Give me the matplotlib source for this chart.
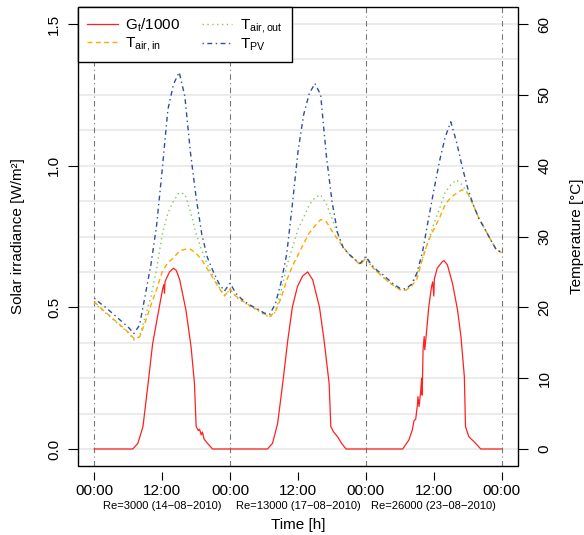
import matplotlib
matplotlib.use("Agg")
import matplotlib.pyplot as plt
import matplotlib.transforms as mtransforms
from matplotlib.patches import Rectangle
import numpy as np

plt.rcParams['font.family'] = ['Liberation Sans', 'DejaVu Sans']
plt.rcParams['mathtext.fontset'] = 'custom'
plt.rcParams['mathtext.rm'] = 'Liberation Sans'
plt.rcParams['mathtext.it'] = 'Liberation Sans:italic'

# Stundenwerte ueber drei Messtage (0..72 h)
hours = np.arange(0, 73)

t_pv = [
    21.3, 20.6, 20.0, 19.3, 18.6, 17.9, 17.2, 16.3, 17.5, 21.7, 26.0, 31.5,
    39.4, 47.9, 51.5, 53.2, 49.8, 41.8, 35.5, 30.3, 27.0, 25.1, 23.4, 22.3,
    23.4, 22.0, 21.2, 20.6, 20.1, 19.7, 19.2, 19.0, 20.5, 23.5, 27.5, 34.5,
    42.0, 47.2, 50.2, 51.6, 50.0, 41.5, 35.0, 30.5, 28.4, 27.5, 26.8, 26.2,
    27.2, 26.0, 25.2, 24.6, 23.9, 23.2, 22.7, 22.6, 23.2, 24.8, 27.8, 32.2,
    36.5, 40.6, 44.0, 46.2, 43.4, 39.9, 36.8, 34.4, 32.5, 31.1, 29.6, 28.2, 27.7]

t_air_in = [
    20.8, 20.0, 19.3, 18.6, 17.9, 17.2, 16.5, 15.6, 15.8, 17.9, 20.3, 22.5,
    25.0, 26.3, 27.0, 27.9, 28.2, 28.2, 27.6, 26.7, 25.4, 24.1, 22.8, 21.6,
    22.6, 21.6, 21.0, 20.5, 20.0, 19.6, 19.1, 18.7, 19.4, 21.3, 23.8, 25.8,
    27.4, 29.0, 30.5, 31.5, 32.4, 32.1, 30.8, 29.6, 28.5, 27.5, 26.8, 26.0,
    27.0, 25.8, 25.0, 24.3, 23.6, 23.0, 22.5, 22.4, 22.9, 24.0, 26.8, 29.3,
    31.0, 32.6, 34.5, 35.5, 36.1, 36.6, 36.1, 34.4, 32.5, 31.1, 29.6, 28.2, 27.7]

t_air_out = [
    20.6, 19.9, 19.2, 18.5, 17.8, 17.1, 16.4, 15.4, 15.9, 18.7, 21.5, 25.3,
    30.3, 33.3, 35.0, 36.2, 36.0, 33.5, 30.4, 28.0, 26.0, 24.4, 22.9, 21.7,
    22.5, 21.5, 20.9, 20.4, 19.9, 19.5, 19.0, 18.6, 19.3, 22.3, 25.8, 28.4,
    31.0, 32.7, 34.5, 35.5, 35.9, 34.6, 32.6, 30.3, 28.5, 27.5, 26.8, 26.0,
    27.0, 25.8, 25.0, 24.3, 23.6, 23.0, 22.5, 22.4, 23.0, 24.6, 27.0, 29.3,
    31.8, 33.9, 36.2, 37.3, 38.0, 37.3, 36.1, 34.4, 32.5, 31.1, 29.6, 28.2, 27.7]

# Globalstrahlung / 1000
g_hours = [
    0, 6.8, 7.7, 8.6, 9.5, 10.3, 11.2, 12.1, 12.3, 12.4, 12.5, 12.7, 13.3, 14.0,
    14.5, 15.1, 16.2, 17.1, 17.7, 18.0, 18.4, 18.6, 18.9, 19.1, 19.4, 20.0, 20.9,
    30.6, 31.5, 32.4, 33.3, 34.2, 35.0, 35.9, 36.8, 37.7, 38.6, 39.8, 40.6, 41.5,
    41.8, 42.3, 43.0, 43.7, 44.5,
    54.5, 55.6, 56.2, 56.5, 56.8, 57.1, 57.2, 57.4, 57.7, 57.85, 57.95, 58.1,
    58.3, 58.4, 58.7, 59.1, 59.6, 59.8, 60.0, 60.1, 60.6, 61.5, 61.8, 62.4, 63.3,
    64.2, 64.8, 65.4, 65.6, 66.2, 67.1, 68.3, 72]
g_t = [
    0, 0, 0.02, 0.079, 0.23, 0.37, 0.47, 0.567, 0.58, 0.55, 0.59, 0.60, 0.625, 0.638,
    0.63, 0.597, 0.49, 0.361, 0.232, 0.079, 0.065, 0.07, 0.05, 0.06, 0.035, 0.02, 0,
    0, 0.02, 0.09, 0.232, 0.385, 0.50, 0.573, 0.61, 0.625, 0.597, 0.50, 0.385, 0.232,
    0.079, 0.06, 0.043, 0.02, 0,
    0, 0.032, 0.067, 0.10, 0.105, 0.155, 0.185, 0.15, 0.208, 0.25, 0.19, 0.35,
    0.397, 0.35, 0.41, 0.50, 0.573, 0.59, 0.54, 0.60, 0.638, 0.661, 0.665, 0.65, 0.585,
    0.49, 0.396, 0.255, 0.079, 0.043, 0.026, 0, 0]

x_ticks = [0, 12, 24, 36, 48, 60, 72]
x_labels = ["00:00", "12:00", "00:00", "12:00", "00:00", "12:00", "00:00"]
day_mid = [12, 36, 60]
day_labels = ["Re=3000 (14\u221208\u22122010)", "Re=13000 (17\u221208\u22122010)",
              "Re=26000 (23\u221208\u22122010)"]
midnights = [0, 24, 48, 72]

W, H = 584, 535
fig = plt.figure(figsize=(W / 100, H / 100), dpi=100)
ax = fig.add_axes([78 / W, 1 - 466 / H, 440 / W, 459 / H])

ylim_g = (-0.06, 1.56)
ax.set_xlim(-2.88, 74.88)
ax.set_ylim(*ylim_g)

# Hilfslinien alle 5 °C
for k in range(13):
    ax.axhline(k * 0.125, color="#e8e8e8", lw=1.2, zorder=0)
for m in midnights:
    ax.axvline(m, color="#777777", lw=0.8, ls=(0, (5, 3, 1, 3)), zorder=1)

l_g, = ax.plot(g_hours, g_t, color="#ff2020", lw=0.9, zorder=3,
               label=r"G$_\mathregular{t}$/1000")

ax2 = ax.twinx()
ax2.set_ylim(ylim_g[0] * 40, ylim_g[1] * 40)
l_out, = ax2.plot(hours, t_air_out, color="#7cc85a", lw=1.0, ls=(0, (1, 2.5)),
                  label=r"T$_\mathregular{air,out}$")
l_in, = ax2.plot(hours, t_air_in, color="#ffa500", lw=1.0, ls=(0, (3.5, 2.5)),
                 label=r"T$_\mathregular{air,in}$")
l_pv, = ax2.plot(hours, t_pv, color="#2e4f9e", lw=1.0, ls=(0, (1, 2.5, 3.5, 2.5)),
                 label=r"T$_\mathregular{PV}$")

# Achsen
ax.set_yticks([0, 0.5, 1.0, 1.5])
ax.set_yticklabels(["0.0", "0.5", "1.0", "1.5"], rotation=90, va="center")
ax2.set_yticks([0, 10, 20, 30, 40, 50, 60])
ax2.set_yticklabels(["0", "10", "20", "30", "40", "50", "60"], rotation=90, va="center")
ax.tick_params(axis="y", direction="out", length=7, width=0.8, pad=5, labelsize=11)
ax2.tick_params(axis="y", direction="out", length=7, width=0.8, pad=7, labelsize=11)

ax.set_xticks(x_ticks)
ax.set_xticklabels(x_labels)
ax.tick_params(axis="x", direction="out", length=6, width=0.8, pad=3, labelsize=11)
ax.spines["bottom"].set_position(("outward", 4))
for a in (ax, ax2):
    for s in a.spines.values():
        s.set_color("none")
ax.add_patch(Rectangle((0, 0), 1, 1, transform=ax.transAxes, fill=False,
                       edgecolor="black", lw=1.0, clip_on=False, zorder=5))

trans = mtransforms.blended_transform_factory(ax.transData, ax.transAxes)
for xm, lab in zip(day_mid, day_labels):
    ax.text(xm, -0.087, lab, transform=trans, ha="center", va="center", fontsize=8)

fig.text(298 / W, 1 - 525 / H, "Time [h]", ha="center", va="center", fontsize=11)
fig.text(18 / W, 1 - 236 / H, "Solar irradiance [W/m²]", ha="center", va="center",
         rotation=90, fontsize=11)
fig.text(577 / W, 1 - 236 / H, "Temperature [°C]", ha="center", va="center",
         rotation=90, fontsize=11)

leg = ax2.legend(handles=[l_g, l_in, l_out, l_pv], ncol=2, loc="upper left",
                 bbox_to_anchor=(0, 1), borderaxespad=0, fontsize=11,
                 fancybox=False, framealpha=1, edgecolor="black",
                 handlelength=2.0, columnspacing=1.4, handletextpad=0.5,
                 labelspacing=0.1, borderpad=0.6)
leg.get_frame().set_linewidth(1.0)
leg.set_zorder(10)

fig.savefig("out.png", dpi=100)
